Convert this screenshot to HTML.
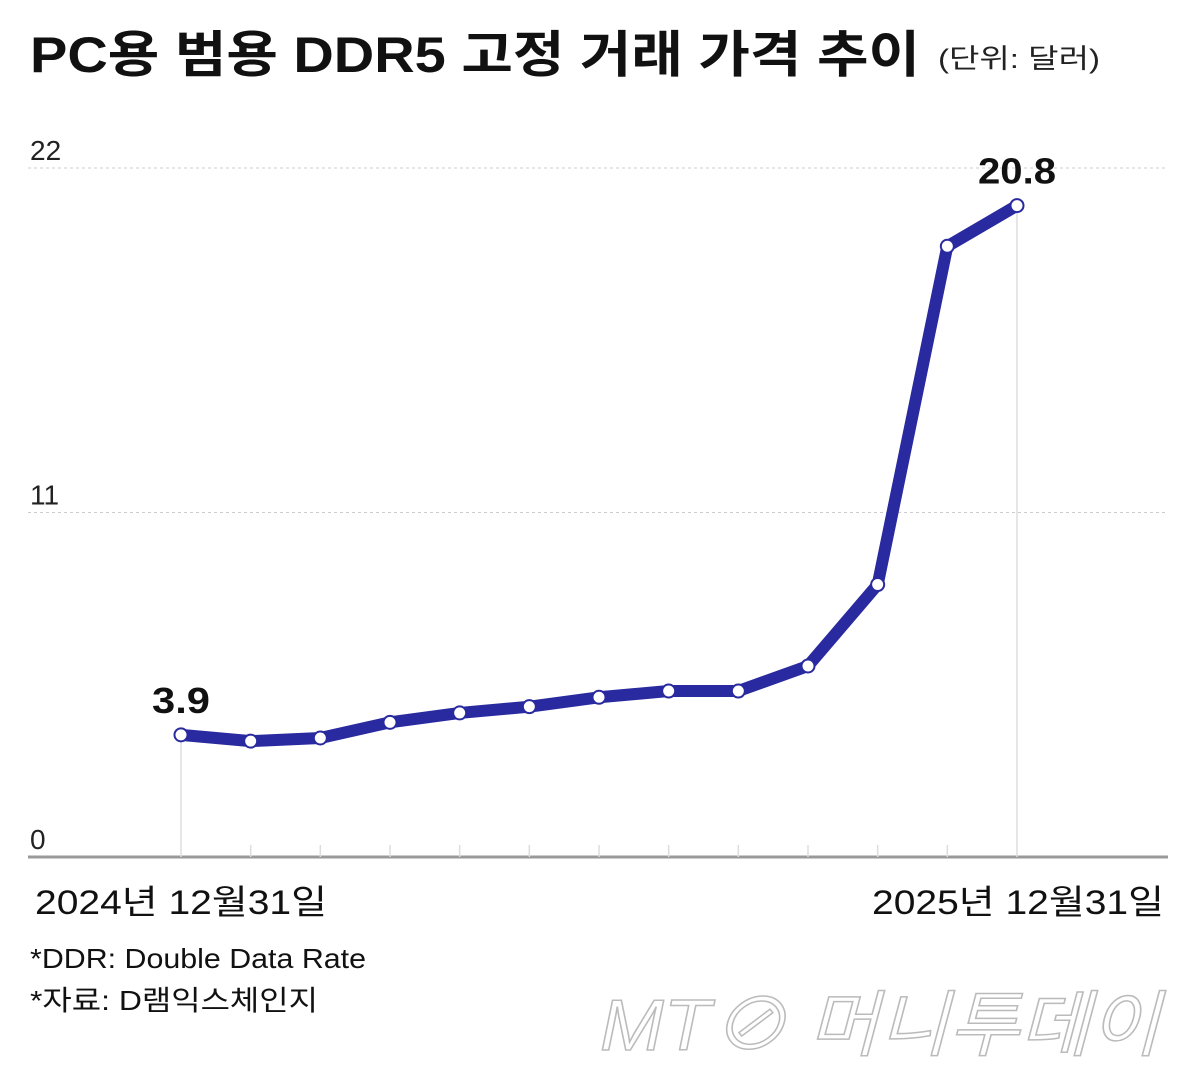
<!DOCTYPE html>
<html><head><meta charset="utf-8"><style>
html,body{margin:0;padding:0;background:#fff;}
svg{display:block;font-family:"Liberation Sans","Noto Sans CJK KR",sans-serif;}
</style></head><body>
<svg id="chart" width="1200" height="1092" viewBox="0 0 1200 1092">
<text x="30" y="72" font-size="50" font-weight="bold" fill="#111" textLength="890" lengthAdjust="spacingAndGlyphs">PC용 범용 DDR5 고정 거래 가격 추이</text>
<text x="938" y="68" font-size="27" fill="#222" textLength="162" lengthAdjust="spacingAndGlyphs">(단위: 달러)</text>
<g id="grid"></g>
<g id="xaxis"></g>
<g id="series"></g>
<text x="35" y="914" font-size="34" fill="#111" textLength="292" lengthAdjust="spacingAndGlyphs">2024년 12월31일</text>
<text x="872" y="914" font-size="34" fill="#111" textLength="292" lengthAdjust="spacingAndGlyphs">2025년 12월31일</text>
<text x="30" y="968" font-size="28" fill="#111" textLength="336" lengthAdjust="spacingAndGlyphs">*DDR: Double Data Rate</text>
<text x="30" y="1010" font-size="28" fill="#111" textLength="288" lengthAdjust="spacingAndGlyphs">*자료: D램익스체인지</text>
<text x="600" y="1050" font-size="72" fill="#fff" stroke="#bbb" stroke-width="1.5" font-style="italic" textLength="560" lengthAdjust="spacingAndGlyphs">MT⊘ 머니투데이</text>
</svg>
<script>
const categories = ["2024-12","2025-01","2025-02","2025-03","2025-04","2025-05","2025-06","2025-07","2025-08","2025-09","2025-10","2025-11","2025-12"];
const prices = [3.9,3.7,3.8,4.3,4.6,4.8,5.1,5.3,5.3,6.1,8.7,19.5,20.8];
const yTicks = [0,11,22];
const NS="http://www.w3.org/2000/svg";
const x0=181,x1=1017,yBase=857,yTop=168;
function xs(i){return x0+(x1-x0)*i/(categories.length-1);}
function ys(v){return yBase-(yBase-yTop)*v/22;}
function mk(tag,attrs,parent){const e=document.createElementNS(NS,tag);for(const k in attrs)e.setAttribute(k,attrs[k]);parent.appendChild(e);return e;}
const grid=document.getElementById('grid'),xa=document.getElementById('xaxis'),se=document.getElementById('series');
yTicks.forEach(t=>{
  if(t>0){const l=mk('line',{x1:28,x2:1168,y1:ys(t),y2:ys(t),stroke:'#ccc','stroke-width':1,'stroke-dasharray':'3,3'},grid);
  
  }
  const tx=mk('text',{x:30,y:ys(t)-8,'font-size':28,fill:'#222'},grid);
  tx.textContent=t;
  
  
});
const b=mk('line',{x1:28,x2:1168,y1:yBase,y2:yBase,stroke:'#999','stroke-width':3},xa);


categories.forEach((c,i)=>{
  const edge=(i===0||i===categories.length-1);
  const t=mk('line',{x1:xs(i),x2:xs(i),y1:edge?ys(prices[i]):845,y2:yBase,stroke:'#ddd','stroke-width':1.5},xa);
  
  
});
const pts=prices.map((v,i)=>xs(i)+','+ys(v)).join(' ');
const pl=mk('polyline',{points:pts,fill:'none',stroke:'#2a2aa0','stroke-width':12,'stroke-linejoin':'round','stroke-linecap':'round'},se);


prices.forEach((v,i)=>{
  const c=mk('circle',{cx:xs(i),cy:ys(v),r:6.5,fill:'#fff',stroke:'#2a2aa0','stroke-width':2},se);
  
  
});
[[0,'3.9'],[prices.length-1,'20.8']].forEach(([i])=>{
  const t=mk('text',{x:xs(i),y:ys(prices[i])-22,'font-size':36,'font-weight':'bold',fill:'#111','text-anchor':'middle',textLength:i===0?58:78,lengthAdjust:'spacingAndGlyphs'},se);
  t.textContent=prices[i].toFixed(1);
  
  
});
</script>
</body></html>
